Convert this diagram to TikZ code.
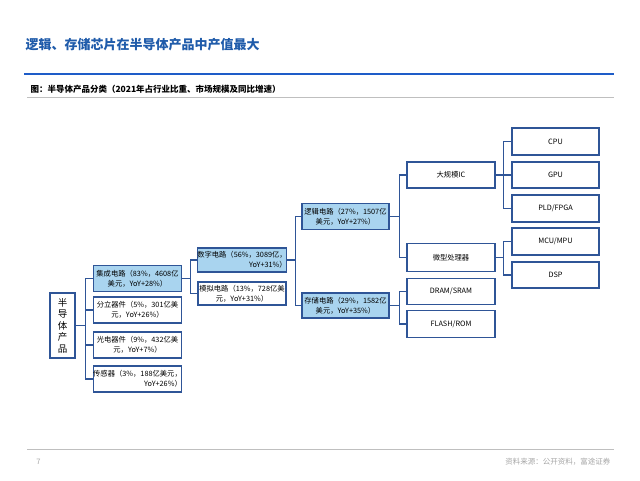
\documentclass[tikz,border=0pt]{standalone}
\usepackage{fontspec}
\setmainfont{Noto Sans CJK SC}
\usepackage{xcolor}
\usepackage{tikz}
\usetikzlibrary{calc}
\definecolor{bg}{HTML}{FFFFFF}
\definecolor{titleblue}{HTML}{1F5BAA}
\definecolor{rule}{HTML}{1E5CC8}
\definecolor{edge}{HTML}{2F5597}
\definecolor{cell}{HTML}{A9D4EF}
\definecolor{grayline}{HTML}{BFBFBF}
\definecolor{muted}{HTML}{A6A6A6}
\tikzset{
  box/.style={draw=edge, line width=1.3pt, fill=white, inner sep=0pt,
    minimum width=88pt, minimum height=26pt, font=\fontsize{7.3}{9.6}\selectfont, align=center},
  hot/.style={box, fill=cell},
  link/.style={draw=edge, line width=1.3pt},
  lab/.style={text=black, font=\fontsize{8.5}{10}\selectfont\bfseries, anchor=west},
  labm/.style={text=muted, font=\fontsize{7.5}{9}\selectfont},
}

\begin{document}
\begin{tikzpicture}[x=1pt,y=-1pt]
  \fill[bg] (0,0) rectangle (640,480);
  \useasboundingbox (0,0) rectangle (640,480);

  % page head
  \node[text=titleblue, font=\fontsize{13}{15}\selectfont\bfseries, anchor=west] (title) at (22,45) {逻辑、存储芯片在半导体产品中产值最大};
  \draw[rule, line width=2.6pt] (24,74) -- (614,74);
  \node[lab] (sub) at (27,89.5) {图：半导体产品分类（2021年占行业比重、市场规模及同比增速）};
  \draw[grayline, line width=0.8pt] (27,97.5) -- (614,97.5);

  % tree
  \node[box, minimum width=25pt, minimum height=65pt, font=\fontsize{9.5}{11.5}\selectfont] (root) at (62.5,325.5) {半\\导\\体\\产\\品};

  \node[hot] (ic)  at (137.5,278.5) {集成电路（83\%，4608亿\\美元，YoY+28\%）};
  \node[box] (dis) at (137.5,310) {分立器件（5\%，301亿美\\元，YoY+26\%）};
  \node[box] (opt) at (137.5,345) {光电器件（9\%，432亿美\\元，YoY+7\%）};
  \node[box, align=right] (sen) at (137.5,379) {传感器（3\%，188亿美元，\\YoY+26\%）};

  \node[hot, align=right, minimum height=24pt] (dig) at (242,260) {数字电路（56\%，3089亿，\\YoY+31\%）};
  \node[box, minimum height=23pt] (ana) at (242,293.5) {模拟电路（13\%，728亿美\\元，YoY+31\%）};

  \node[hot, minimum width=87pt] (logic) at (345.5,216.5) {逻辑电路（27\%，1507亿\\美元，YoY+27\%）};
  \node[hot, minimum width=87pt, minimum height=25pt] (mem) at (345.5,305.5) {存储电路（29\%，1582亿\\美元，YoY+35\%）};

  \node[box] (lsi)   at (451,175) {大规模IC};
  \node[box, minimum height=28pt] (micro) at (451,257.5) {微型处理器};
  \node[box] (dram)  at (451,291.5) {DRAM/SRAM};
  \node[box, minimum height=27pt] (flash) at (451,324) {FLASH/ROM};

  \node[box, minimum width=87pt, minimum height=27pt] (cpu)  at (555.5,141.5) {CPU};
  \node[box, minimum width=87pt] (gpu)  at (555.5,175) {GPU};
  \node[box, minimum width=87pt, minimum height=27pt] (pld)  at (555.5,208.5) {PLD/FPGA};
  \node[box, minimum width=87pt, minimum height=27pt] (mcu)  at (555.5,241.5) {MCU/MPU};
  \node[box, minimum width=87pt] (dsp)  at (555.5,275) {DSP};

  \foreach \c in {ic,dis,opt,sen} \draw[link] (root.east) -- ++(9.5,0) |- (\c.west);
  \foreach \c in {dig,ana} \draw[link] (ic.east) -- ++(8,0) |- (\c.west);
  \foreach \c in {logic,mem} \draw[link] (dig.east) -- ++(8,0) |- (\c.west);
  \foreach \c in {lsi,micro} \draw[link] (logic.east) -- ++(10,0) |- (\c.west);
  \foreach \c in {dram,flash} \draw[link] (mem.east) -- ++(10,0) |- (\c.west);
  \foreach \c in {cpu,gpu,pld} \draw[link] (lsi.east) -- ++(8,0) |- (\c.west);
  \foreach \c in {mcu,dsp} \draw[link] (micro.east) -- ++(8,0) |- (\c.west);

  % page foot
  \draw[grayline, line width=0.8pt] (27,449) -- (614,449);
  \node[labm] (page) at (38.5,462) {7};
  \node[labm, anchor=east] (src) at (614,462) {资料来源：公开资料，富途证券};
\end{tikzpicture}
\end{document}
